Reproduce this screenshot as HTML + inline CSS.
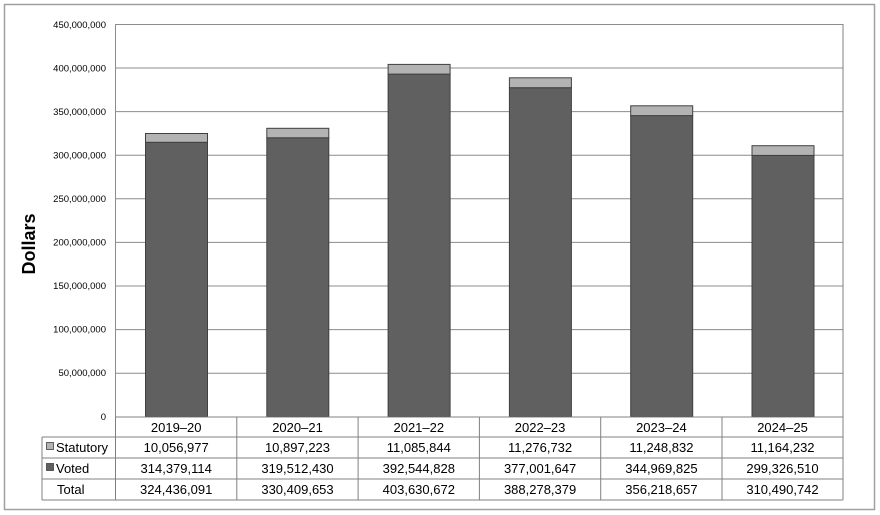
<!DOCTYPE html>
<html><head><meta charset="utf-8"><style>
html,body{margin:0;padding:0;background:#fff;}
svg{display:block;font-family:"Liberation Sans",Arial,sans-serif;}
</style></head><body>
<svg width="880" height="515" viewBox="0 0 880 515" xmlns="http://www.w3.org/2000/svg">
<rect x="0" y="0" width="880" height="515" fill="#fff"/>
<rect x="4.5" y="4.5" width="870" height="505" fill="#fff" stroke="#a0a0a0" stroke-width="1.5"/>
<g stroke="#8c8c8c" stroke-width="1">
<line x1="115.5" y1="24.5" x2="843" y2="24.5"/>
<line x1="115.5" y1="68" x2="843" y2="68"/>
<line x1="115.5" y1="111.6" x2="843" y2="111.6"/>
<line x1="115.5" y1="155.2" x2="843" y2="155.2"/>
<line x1="115.5" y1="198.8" x2="843" y2="198.8"/>
<line x1="115.5" y1="242.4" x2="843" y2="242.4"/>
<line x1="115.5" y1="286" x2="843" y2="286"/>
<line x1="115.5" y1="329.6" x2="843" y2="329.6"/>
<line x1="115.5" y1="373.2" x2="843" y2="373.2"/>
<line x1="115.5" y1="24" x2="115.5" y2="417"/>
</g>
<g font-size="9.5" fill="#000" text-anchor="end">
<text x="106" y="28">450,000,000</text>
<text x="106" y="71.5">400,000,000</text>
<text x="106" y="115">350,000,000</text>
<text x="106" y="158.5">300,000,000</text>
<text x="106" y="202">250,000,000</text>
<text x="106" y="245.5">200,000,000</text>
<text x="106" y="289">150,000,000</text>
<text x="106" y="332.5">100,000,000</text>
<text x="106" y="376">50,000,000</text>
<text x="106" y="420">0</text>
</g>
<text transform="translate(35,244) rotate(-90)" font-size="18" font-weight="bold" text-anchor="middle">Dollars</text>
<g stroke="#404040" stroke-width="1">
<rect x="145.5" y="142.3" width="62" height="274.2" fill="#606060"/>
<rect x="145.5" y="133.5" width="62" height="8.8" fill="#b3b3b3"/>
<rect x="266.8" y="137.8" width="62" height="278.7" fill="#606060"/>
<rect x="266.8" y="128.3" width="62" height="9.5" fill="#b3b3b3"/>
<rect x="388.1" y="74.1" width="62" height="342.4" fill="#606060"/>
<rect x="388.1" y="64.4" width="62" height="9.7" fill="#b3b3b3"/>
<rect x="509.4" y="87.7" width="62" height="328.8" fill="#606060"/>
<rect x="509.4" y="77.8" width="62" height="9.9" fill="#b3b3b3"/>
<rect x="630.7" y="115.6" width="62" height="300.9" fill="#606060"/>
<rect x="630.7" y="105.8" width="62" height="9.8" fill="#b3b3b3"/>
<rect x="752" y="155.4" width="62" height="261.1" fill="#606060"/>
<rect x="752" y="145.7" width="62" height="9.7" fill="#b3b3b3"/>
</g>
<g stroke="#808080" stroke-width="1" fill="none">
<line x1="115.5" y1="417" x2="843" y2="417"/>
<line x1="42" y1="437" x2="843" y2="437"/>
<line x1="42" y1="458" x2="843" y2="458"/>
<line x1="42" y1="479" x2="843" y2="479"/>
<line x1="42" y1="500" x2="843" y2="500"/>
<line x1="42" y1="437" x2="42" y2="500"/>
<line x1="115.5" y1="417" x2="115.5" y2="500"/>
<line x1="236.8" y1="417" x2="236.8" y2="500"/>
<line x1="358.1" y1="417" x2="358.1" y2="500"/>
<line x1="479.4" y1="417" x2="479.4" y2="500"/>
<line x1="600.7" y1="417" x2="600.7" y2="500"/>
<line x1="722" y1="417" x2="722" y2="500"/>
<line x1="843" y1="24" x2="843" y2="500"/>
</g>
<rect x="46.5" y="442.5" width="7" height="7" fill="#b3b3b3" stroke="#404040" stroke-width="0.8"/>
<rect x="46.5" y="463.5" width="7" height="7" fill="#606060" stroke="#404040" stroke-width="0.8"/>
<g font-size="13" fill="#000">
<text x="56" y="452">Statutory</text>
<text x="56" y="473">Voted</text>
<text x="57" y="494">Total</text>
</g>
<g font-size="13" fill="#000" text-anchor="middle">
<text x="176.2" y="432">2019–20</text><text x="297.5" y="432">2020–21</text><text x="418.8" y="432">2021–22</text><text x="540.1" y="432">2022–23</text><text x="661.4" y="432">2023–24</text><text x="782.5" y="432">2024–25</text>
<text x="176.2" y="452">10,056,977</text><text x="297.5" y="452">10,897,223</text><text x="418.8" y="452">11,085,844</text><text x="540.1" y="452">11,276,732</text><text x="661.4" y="452">11,248,832</text><text x="782.5" y="452">11,164,232</text>
<text x="176.2" y="473">314,379,114</text><text x="297.5" y="473">319,512,430</text><text x="418.8" y="473">392,544,828</text><text x="540.1" y="473">377,001,647</text><text x="661.4" y="473">344,969,825</text><text x="782.5" y="473">299,326,510</text>
<text x="176.2" y="494">324,436,091</text><text x="297.5" y="494">330,409,653</text><text x="418.8" y="494">403,630,672</text><text x="540.1" y="494">388,278,379</text><text x="661.4" y="494">356,218,657</text><text x="782.5" y="494">310,490,742</text>
</g>
</svg>
</body></html>
